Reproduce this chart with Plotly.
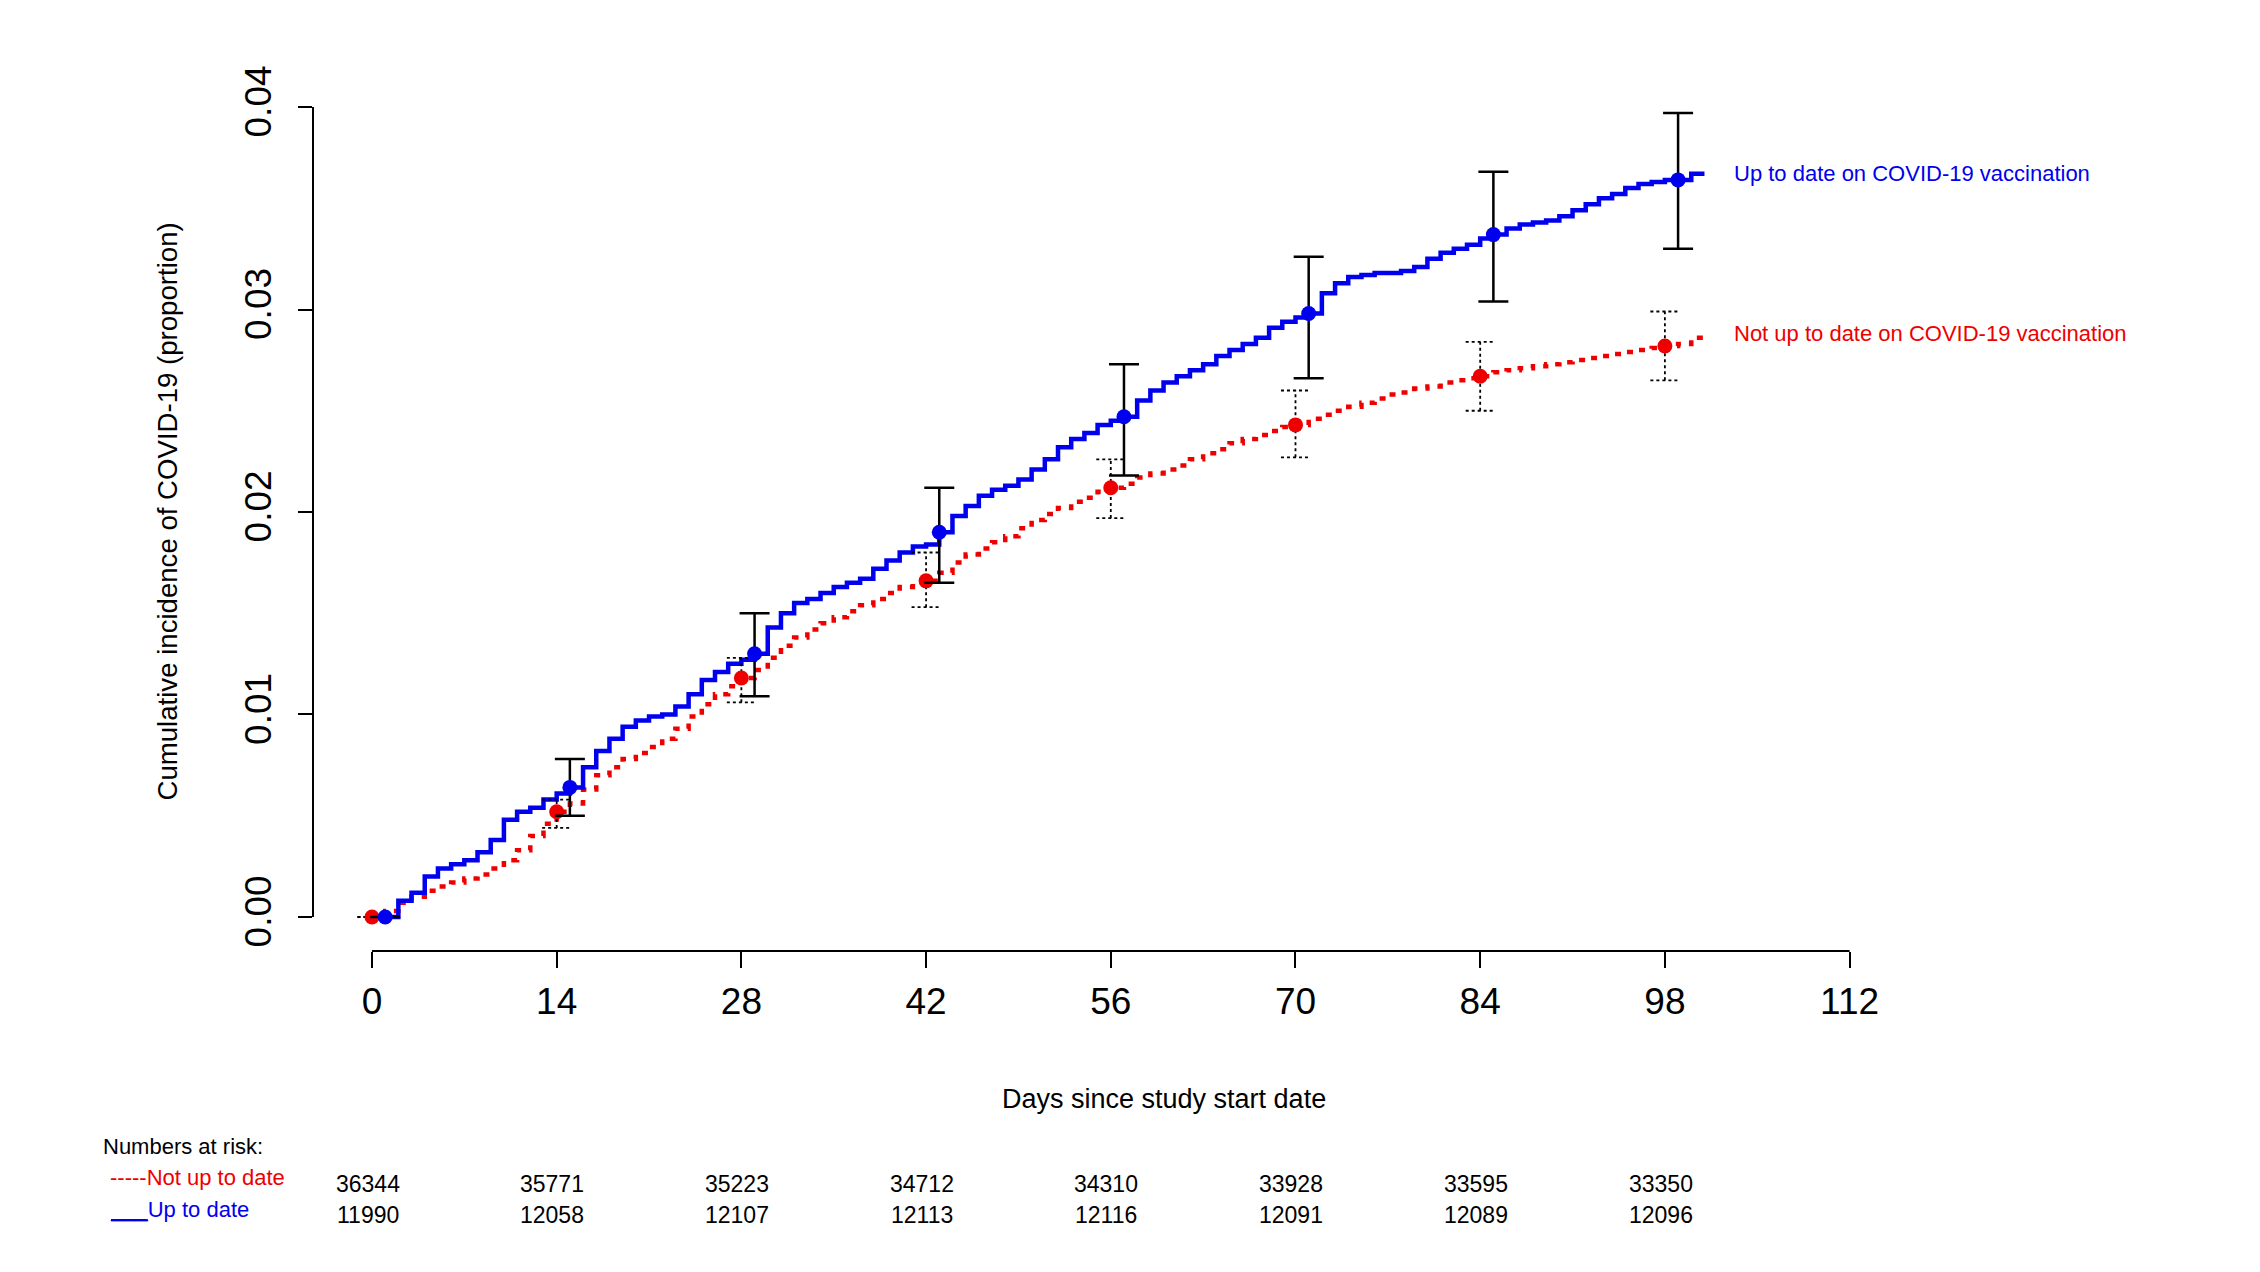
import plotly.graph_objects as go

# ---------------- data ----------------
days = list(range(0, 102))

up_to_date = [
    0.0000, 0.0000, 0.0008, 0.0012, 0.0020, 0.0024, 0.0026, 0.0028, 0.0032, 0.0038,
    0.0048, 0.0052, 0.0054, 0.0058, 0.0061, 0.0064, 0.0074, 0.0082, 0.0088, 0.0094,
    0.0097, 0.0099, 0.0100, 0.0104, 0.0110, 0.0117, 0.0121, 0.0125, 0.0127, 0.0130,
    0.0143, 0.0150, 0.0155, 0.0157, 0.0160, 0.0163, 0.0165, 0.0167, 0.0172, 0.0176,
    0.0180, 0.0183, 0.0184, 0.0190, 0.0198, 0.0203, 0.0208, 0.0211, 0.0213, 0.0216,
    0.0221, 0.0226, 0.0232, 0.0236, 0.0239, 0.0243, 0.0245, 0.0247, 0.0255, 0.0260,
    0.0264, 0.0267, 0.0270, 0.0273, 0.0277, 0.0280, 0.0283, 0.0286, 0.0291, 0.0294,
    0.0296, 0.0298, 0.0308, 0.0313, 0.0316, 0.0317, 0.0318, 0.0318, 0.0319, 0.0321,
    0.0325, 0.0328, 0.0330, 0.0332, 0.0335, 0.0337, 0.0340, 0.0342, 0.0343, 0.0344,
    0.0346, 0.0349, 0.0352, 0.0355, 0.0357, 0.0360, 0.0362, 0.0363, 0.0364, 0.0364,
    0.0367, 0.0367,
]

not_up_to_date = [
    0.0000, 0.0003, 0.0007, 0.0010, 0.0013, 0.0015, 0.0017, 0.0019, 0.0021, 0.0024,
    0.0028, 0.0033, 0.0040, 0.0046, 0.0052, 0.0056, 0.0063, 0.0070, 0.0074, 0.0078,
    0.0081, 0.0084, 0.0088, 0.0093, 0.0099, 0.0105, 0.0110, 0.0114, 0.0118, 0.0122,
    0.0128, 0.0134, 0.0138, 0.0142, 0.0145, 0.0148, 0.0151, 0.0154, 0.0157, 0.0160,
    0.0163, 0.0165, 0.0166, 0.0170, 0.0175, 0.0179, 0.0182, 0.0185, 0.0188, 0.0192,
    0.0196, 0.0199, 0.0202, 0.0205, 0.0207, 0.0210, 0.0212, 0.0214, 0.0217, 0.0219,
    0.0221, 0.0223, 0.0226, 0.0229, 0.0231, 0.0234, 0.0236, 0.0238, 0.0240, 0.0242,
    0.0243, 0.0246, 0.0248, 0.0250, 0.0252, 0.0254, 0.0256, 0.0258, 0.0259, 0.0261,
    0.0262, 0.0264, 0.0265, 0.0266, 0.0267, 0.0269, 0.0270, 0.0271, 0.0272, 0.0273,
    0.0274, 0.0275, 0.0276, 0.0277, 0.0278, 0.0279, 0.0280, 0.0281, 0.0282, 0.0283,
    0.0286, 0.0288,
]

blue_mark_days = [1, 15, 29, 43, 57, 71, 85, 99]
blue_mark = [0.0, 0.0064, 0.0130, 0.0190, 0.0247, 0.0298, 0.0337, 0.0364]
blue_lo = [0.0, 0.0050, 0.0109, 0.0165, 0.0218, 0.0266, 0.0304, 0.0330]
blue_hi = [0.0, 0.0078, 0.0150, 0.0212, 0.0273, 0.0326, 0.0368, 0.0397]

red_mark_days = [0, 14, 28, 42, 56, 70, 84, 98]
red_mark = [0.0, 0.0052, 0.0118, 0.0166, 0.0212, 0.0243, 0.0267, 0.0282]
red_lo = [0.0, 0.0044, 0.0106, 0.0153, 0.0197, 0.0227, 0.0250, 0.0265]
red_hi = [0.0, 0.0058, 0.0128, 0.0180, 0.0226, 0.0260, 0.0284, 0.0299]

x_ticks = [0, 14, 28, 42, 56, 70, 84, 98, 112]
y_ticks = [0.00, 0.01, 0.02, 0.03, 0.04]
y_tick_labels = ["0.00", "0.01", "0.02", "0.03", "0.04"]

risk_days = [0, 14, 28, 42, 56, 70, 84, 98]
risk_not_up = [36344, 35771, 35223, 34712, 34310, 33928, 33595, 33350]
risk_up = [11990, 12058, 12107, 12113, 12116, 12091, 12089, 12096]

BLUE = "#0000EE"
RED = "#EE0000"
FONT = "Liberation Sans, Arial, sans-serif"

fig = go.Figure()

# Not up to date curve (dotted red)
fig.add_trace(go.Scatter(
    x=days, y=not_up_to_date, mode="lines", line_shape="hv",
    line=dict(color=RED, width=4.5, dash="6px,8px"), hoverinfo="skip",
))
# Up to date curve (solid blue)
fig.add_trace(go.Scatter(
    x=days, y=up_to_date, mode="lines", line_shape="hv",
    line=dict(color=BLUE, width=4.5), hoverinfo="skip",
))

# Red dotted confidence intervals
cap = 1.1
cx, cy = [], []
for d, lo, hi in zip(red_mark_days, red_lo, red_hi):
    cx += [d, d, None, d - cap, d + cap, None, d - cap, d + cap, None]
    cy += [lo, hi, None, lo, lo, None, hi, hi, None]
fig.add_trace(go.Scatter(
    x=cx, y=cy, mode="lines", line=dict(color="black", width=1.8, dash="dot"),
    hoverinfo="skip",
))
fig.add_trace(go.Scatter(
    x=red_mark_days, y=red_mark, mode="markers",
    marker=dict(color=RED, size=15), hoverinfo="skip",
))

# Blue markers with solid CIs
fig.add_trace(go.Scatter(
    x=blue_mark_days, y=blue_mark, mode="markers",
    marker=dict(color=BLUE, size=15),
    error_y=dict(type="data", symmetric=False,
                 array=[h - m for h, m in zip(blue_hi, blue_mark)],
                 arrayminus=[m - l for m, l in zip(blue_mark, blue_lo)],
                 color="black", thickness=2.5, width=15),
    hoverinfo="skip",
))

# axis lines (R style, limited to data range)
fig.add_shape(type="line", xref="x", yref="paper", x0=x_ticks[0], x1=x_ticks[-1], y0=0, y1=0,
              line=dict(color="black", width=2))
fig.add_shape(type="line", xref="paper", yref="y", x0=0, x1=0, y0=y_ticks[0], y1=y_ticks[-1],
              line=dict(color="black", width=2))

# curve labels
fig.add_annotation(x=103.1, y=up_to_date[-1], xref="x", yref="y", xanchor="left",
                   text="Up to date on COVID-19 vaccination", showarrow=False,
                   font=dict(family=FONT, size=22, color=BLUE))
fig.add_annotation(x=103.1, y=not_up_to_date[-1], xref="x", yref="y", xanchor="left",
                   text="Not up to date on COVID-19 vaccination", showarrow=False,
                   font=dict(family=FONT, size=22, color=RED))

# axis titles
fig.add_annotation(x=-0.0855, y=0.0200, xref="paper", yref="y", textangle=-90,
                   text="Cumulative incidence of COVID-19 (proportion)", showarrow=False,
                   font=dict(family=FONT, size=27.6, color="black"))
fig.add_annotation(x=60, y=-0.1848, xref="x", yref="paper",
                   text="Days since study start date", showarrow=False,
                   font=dict(family=FONT, size=27, color="black"))

# numbers at risk
fig.add_annotation(x=-0.111, y=-0.2352, xref="paper", yref="paper", xanchor="left",
                   text="Numbers at risk:", showarrow=False,
                   font=dict(family=FONT, size=22, color="black"))
fig.add_annotation(x=-0.1073, y=-0.270, xref="paper", yref="paper", xanchor="left",
                   text="-----Not up to date", showarrow=False,
                   font=dict(family=FONT, size=22, color=RED))
fig.add_annotation(x=-0.1073, y=-0.3057, xref="paper", yref="paper", xanchor="left",
                   text="<u>___</u>Up to date", showarrow=False,
                   font=dict(family=FONT, size=22, color=BLUE))
for d, a, b in zip(risk_days, risk_not_up, risk_up):
    fig.add_annotation(x=d - 0.33, y=-0.2777, xref="x", yref="paper", text=str(a),
                       showarrow=False, font=dict(family=FONT, size=23, color="black"))
    fig.add_annotation(x=d - 0.33, y=-0.3124, xref="x", yref="paper", text=str(b),
                       showarrow=False, font=dict(family=FONT, size=23, color="black"))

fig.update_layout(
    width=2260, height=1272,
    margin=dict(l=305, r=49, t=50, b=329),
    paper_bgcolor="white", plot_bgcolor="white",
    showlegend=False,
    font=dict(family=FONT, color="black"),
    xaxis=dict(range=[-4.47, 140], tickvals=x_ticks, ticktext=[str(t) for t in x_ticks],
               showgrid=False, zeroline=False, showline=False,
               ticks="outside", ticklen=16, tickwidth=2, tickcolor="black",
               ticklabelstandoff=2, tickfont=dict(family=FONT, size=37, color="black")),
    yaxis=dict(range=[-0.00168, 0.04242], tickvals=y_ticks, ticktext=y_tick_labels,
               showgrid=False, zeroline=False, showline=False,
               ticks="outside", ticklen=14, tickwidth=2, tickcolor="black",
               tickangle=-90, ticklabelstandoff=12,
               tickfont=dict(family=FONT, size=37, color="black")),
)

fig.write_html("out.html")
